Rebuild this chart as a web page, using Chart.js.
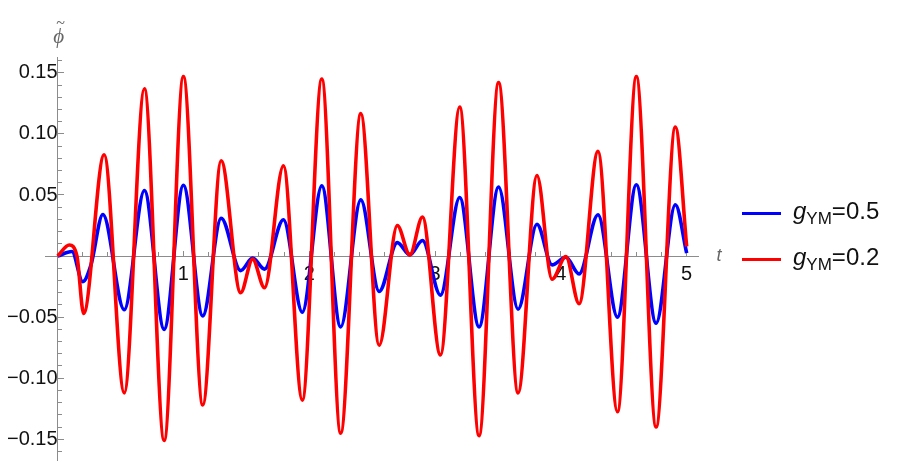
<!DOCTYPE html>
<html>
<head>
<meta charset="utf-8">
<script src="https://cdn.jsdelivr.net/npm/chart.js@4.4.1/dist/chart.umd.min.js"></script>
<style>
  body { margin: 0; background: #fff; }
  #wrap { position: relative; width: 909px; height: 472px; }
  #legend {
    position: absolute; left: 742px; top: 190px;
    font-family: "Liberation Sans", Arial, sans-serif; font-size: 24px; color: #111;
  }
  .item { display: flex; align-items: center; height: 46px; }
  .swatch { width: 39px; height: 3px; margin-right: 12px; }
  .item i { font-family: "Liberation Sans", Arial, sans-serif; }
  .item sub { font-size: 17px; vertical-align: -5px; }
</style>
</head>
<body>
<div id="wrap">
  <canvas id="phiChart"></canvas>
  <div id="legend"></div>
</div>
<script>
// values (extrema and a few crossings)
const blueT = [0, 0.114, 0.20, 0.265, 0.36, 0.53, 0.69, 0.847, 1.0, 1.154, 1.30, 1.455, 1.55, 1.645, 1.795, 1.945,
  2.10, 2.25, 2.41, 2.556, 2.70, 2.80, 2.90, 3.043, 3.196, 3.35, 3.505, 3.66, 3.81, 3.93, 4.04, 4.145,
  4.295, 4.45, 4.60, 4.757, 4.91, 5.0];
const bluePhi = [0, 0.0037, -0.021, -0.0074, 0.034, -0.044, 0.0537, -0.060, 0.058, -0.049, 0.031, -0.0119, -0.0017, -0.0107, 0.0297, -0.046,
  0.0575, -0.058, 0.046, -0.029, 0.011, 0.001, 0.0127, -0.032, 0.048, -0.058, 0.0565, -0.0435, 0.026, -0.0072, -0.001, -0.0146,
  0.0338, -0.050, 0.0584, -0.055, 0.042, 0.0024];

const redT = [0, 0.093, 0.154, 0.207, 0.37, 0.53, 0.69, 0.847, 1.0, 1.154, 1.30, 1.455, 1.55, 1.645, 1.795, 1.945,
  2.10, 2.25, 2.41, 2.556, 2.70, 2.80, 2.90, 3.043, 3.196, 3.35, 3.505, 3.66, 3.81, 3.93, 4.04, 4.145,
  4.295, 4.45, 4.60, 4.757, 4.91, 5.0];
const redPhi = [0, 0.009, 0, -0.047, 0.083, -0.112, 0.137, -0.151, 0.147, -0.122, 0.078, -0.030, -0.0025, -0.026, 0.074, -0.118,
  0.145, -0.145, 0.1166, -0.073, 0.025, 0.001, 0.032, -0.081, 0.122, -0.147, 0.142, -0.112, 0.066, -0.019, -0.0004, -0.039,
  0.0857, -0.1275, 0.147, -0.14, 0.1057, 0.0078];

const gValues = ['0.5', '0.2'];
const seriesColors = ['rgb(0,0,255)', 'rgb(255,0,0)'];

const xTickValues = [1, 2, 3, 4, 5];
const yTickValues = [-0.15, -0.10, -0.05, 0.05, 0.10, 0.15];

const axisColor = '#8c8c8c';

function toPoints(ts, vs) {
  return ts.map((t, i) => ({ x: t, y: vs[i] }));
}

function range(from, to, step) {
  const out = [];
  for (let k = 0; from + k * step <= to + 1e-9; k++) out.push(+(from + k * step).toFixed(4));
  return out;
}

function setTicks(values) {
  return scale => { scale.ticks = values.map(v => ({ value: v })); };
}

// axes sit inside the plot, so they should not eat layout space
function noSpace(scale) {
  if (scale.isHorizontal()) scale.height = 0;
  else scale.width = 0;
  scale.paddingTop = scale.paddingBottom = scale.paddingLeft = scale.paddingRight = 0;
}

// draws the t and phi-tilde axis names at the ends of the axes
const axisNames = {
  id: 'axisNames',
  afterDraw(chart) {
    const { ctx, scales } = chart;
    const x0 = scales.x.getPixelForValue(0);
    const y0 = scales.y.getPixelForValue(0);
    const top = chart.chartArea.top;
    ctx.save();
    ctx.fillStyle = '#666';
    ctx.textAlign = 'center';
    ctx.textBaseline = 'middle';
    ctx.font = 'italic 18px "Liberation Sans", Arial, sans-serif';
    ctx.fillText('t', scales.x.right + 21, y0);
    ctx.font = 'italic 21px "Liberation Serif", "DejaVu Serif", serif';
    ctx.fillText('\u03D5', x0 + 1, top - 20);
    ctx.font = '16px "Liberation Serif", "DejaVu Serif", serif';
    ctx.fillText('~', x0 + 3, top - 33);
    ctx.restore();
  }
};

const ctx = document.getElementById('phiChart').getContext('2d');
const chart = new Chart(ctx, {
  type: 'line',
  data: {
    datasets: [
      {
        label: 'g_YM=' + gValues[0],
        data: toPoints(blueT, bluePhi),
        borderColor: seriesColors[0],
        order: 1
      },
      {
        label: 'g_YM=' + gValues[1],
        data: toPoints(redT, redPhi),
        borderColor: seriesColors[1],
        order: 0
      }
    ]
  },
  options: {
    responsive: true,
    maintainAspectRatio: false,
    animation: false,
    layout: { padding: { left: 45, right: 211, top: 57, bottom: 12 } },
    elements: {
      line: { borderWidth: 3.6, cubicInterpolationMode: 'monotone', fill: false },
      point: { radius: 0 }
    },
    plugins: { legend: { display: false }, tooltip: { enabled: false } },
    scales: {
      x: {
        type: 'linear',
        min: -0.1, max: 5.09,
        position: { y: 0 },
        afterBuildTicks: setTicks(xTickValues),
        afterFit: noSpace,
        border: { color: axisColor, width: 1 },
        grid: { drawOnChartArea: false, tickLength: -6, color: axisColor },
        ticks: { color: '#111', font: { size: 20, family: '"Liberation Sans", Arial, sans-serif' }, padding: 12, maxRotation: 0 }
      },
      xMinor: {
        type: 'linear', axis: 'x',
        min: -0.1, max: 5.09,
        position: { y: 0 },
        afterBuildTicks: setTicks(range(0, 5, 0.2)),
        afterFit: noSpace,
        border: { display: false },
        grid: { drawOnChartArea: false, tickLength: -4, color: axisColor },
        ticks: { display: false }
      },
      y: {
        type: 'linear',
        min: -0.167, max: 0.163,
        position: { x: 0 },
        afterBuildTicks: setTicks(yTickValues),
        afterFit: noSpace,
        border: { color: axisColor, width: 1 },
        grid: { drawOnChartArea: false, tickLength: -7, color: axisColor },
        ticks: {
          color: '#111', font: { size: 20, family: '"Liberation Sans", Arial, sans-serif' }, padding: 12,
          callback: v => v.toFixed(2).replace('-', '\u2212')
        }
      },
      yMinor: {
        type: 'linear', axis: 'y',
        min: -0.167, max: 0.163,
        position: { x: 0 },
        afterBuildTicks: setTicks(range(-0.16, 0.16, 0.01)),
        afterFit: noSpace,
        border: { display: false },
        grid: { drawOnChartArea: false, tickLength: -4, color: axisColor },
        ticks: { display: false }
      }
    }
  },
  plugins: [axisNames]
});

// html legend with the subscript
const legend = document.getElementById('legend');
chart.data.datasets.forEach((ds, i) => {
  const item = document.createElement('div');
  item.className = 'item';
  item.innerHTML = `<span class="swatch" style="background:${ds.borderColor}"></span>` +
    `<span><i>g</i><sub>YM</sub>=${gValues[i]}</span>`;
  legend.appendChild(item);
});
</script>
</body>
</html>
